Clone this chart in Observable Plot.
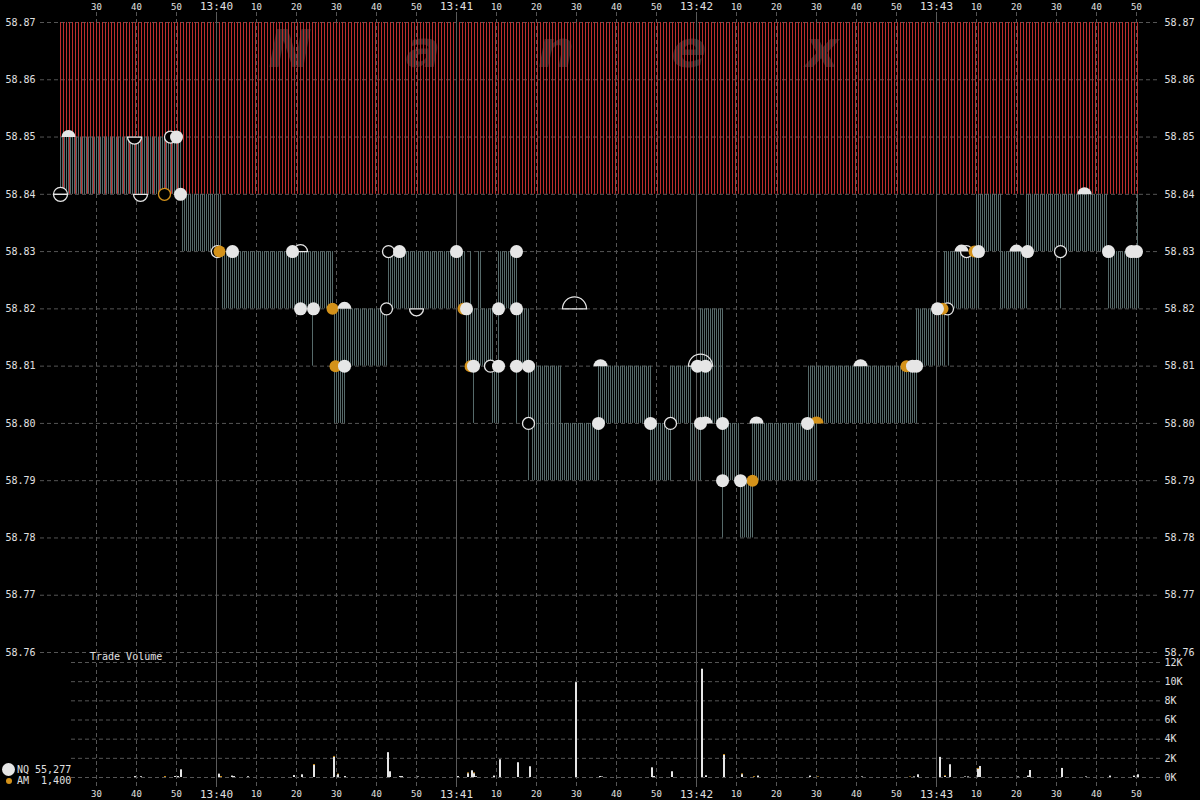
<!DOCTYPE html>
<html>
<head>
<meta charset="utf-8">
<script src="https://cdn.jsdelivr.net/npm/d3@7"></script>
<script src="https://cdn.jsdelivr.net/npm/@observablehq/plot@0.6"></script>
<style>
html, body { margin: 0; padding: 0; background: #000; }
#wrap { position: relative; width: 1200px; height: 800px; background: #000; overflow: hidden;
        font-family: "DejaVu Sans Mono", monospace; }
#wrap svg { position: absolute; left: 0; top: 0; }
.lbl { position: absolute; color: #e0e0e0; font-size: 10px; line-height: 10px; white-space: pre; }
.dot { position: absolute; border-radius: 50%; }
</style>
</head>
<body>
<div id="wrap"></div>
<script>
// ---------------- DATA ----------------
// All times are seconds after 13:39:00
const timeDomain = [21, 291];                       // 13:39:21 .. 13:43:51
const priceTicks = [58.76, 58.77, 58.78, 58.79, 58.80, 58.81, 58.82, 58.83, 58.84, 58.85, 58.86, 58.87];
const volumeTicks = [0, 2000, 4000, 6000, 8000, 10000, 12000];
const legendNQ = "NQ 55,277";
const legendAM = "AM  1,400";

// away quote band: [start, end, low, high]
const redBand = [[21, 291, 58.84, 58.87]];

// NBBO spread spans: [start, end, bid, ask]
const spreads = [
  [21, 51.25, 58.84, 58.85],
  [51.25, 61.25, 58.83, 58.84],
  [61.25, 89.25, 58.82, 58.83],
  [89.25, 92.25, 58.80, 58.81],
  [89.25, 102.75, 58.81, 58.82],
  [102.75, 122.5, 58.82, 58.83],
  [122.5, 129.25, 58.81, 58.82],
  [125.5, 126.5, 58.82, 58.83],
  [129, 130.75, 58.80, 58.81],
  [130.5, 135.25, 58.82, 58.83],
  [135, 138.25, 58.81, 58.82],
  [138, 146.5, 58.80, 58.81],
  [139, 155.75, 58.79, 58.80],
  [155.5, 168.75, 58.80, 58.81],
  [168.5, 173.75, 58.79, 58.80],
  [173.5, 178.75, 58.80, 58.81],
  [178.5, 181.25, 58.79, 58.80],
  [181, 186.75, 58.80, 58.82],
  [186.5, 191, 58.79, 58.80],
  [191, 194.25, 58.78, 58.79],
  [194, 210.25, 58.79, 58.80],
  [208, 235.25, 58.80, 58.81],
  [235, 242.25, 58.81, 58.82],
  [242, 250.75, 58.82, 58.83],
  [250, 256.25, 58.83, 58.84],
  [256, 263, 58.82, 58.83],
  [262.5, 283, 58.83, 58.84],
  [283, 290.75, 58.82, 58.83]
];

// single brief quotes: [time, bid, ask]
const quoteTicks = [
  [84, 58.81, 58.82], [123.5, 58.82, 58.83], [124.25, 58.80, 58.81], [130.5, 58.81, 58.82],
  [135, 58.80, 58.81], [138, 58.79, 58.80], [186.5, 58.78, 58.79], [243, 58.81, 58.82],
  [271, 58.82, 58.83], [290.25, 58.83, 58.84]
];

// trades: [time, price, kind]  N = NQ, A = AM; h = hollow, u = at/above, d = below, U = large
const trades = [
  [23, 58.85, "Nu"], [39.5, 58.85, "Nd"], [48.5, 58.85, "Nh"], [50, 58.85, "N"],
  [21, 58.84, "Nuh"], [21, 58.84, "Nd"], [41, 58.84, "Nd"], [47, 58.84, "Ah"], [51, 58.84, "N"], [277, 58.84, "Nu"],
  [60.2, 58.83, "Nh"], [60.75, 58.83, "A"], [64, 58.83, "N"], [79, 58.83, "N"], [81, 58.83, "Nuh"],
  [103, 58.83, "Nh"], [105.75, 58.83, "N"], [120, 58.83, "N"], [135, 58.83, "N"],
  [246.25, 58.83, "Nu"], [247.5, 58.83, "Nh"], [249.5, 58.83, "A"], [250.5, 58.83, "N"],
  [260, 58.83, "Nu"], [262.75, 58.83, "N"], [271, 58.83, "Nh"], [283, 58.83, "N"], [288.75, 58.83, "N"], [290, 58.83, "N"],
  [81, 58.82, "N"], [84.25, 58.82, "N"], [89, 58.82, "A"], [92, 58.82, "Nu"], [102.5, 58.82, "Nh"],
  [110, 58.82, "Nd"], [121.75, 58.82, "A"], [122.5, 58.82, "N"], [130.5, 58.82, "N"], [135, 58.82, "N"],
  [149.5, 58.82, "NU"], [240.25, 58.82, "N"], [241.5, 58.82, "A"], [242.75, 58.82, "Nh"],
  [89.75, 58.81, "A"], [92, 58.81, "N"], [123.5, 58.81, "A"], [124.25, 58.81, "N"], [128.5, 58.81, "Nh"],
  [130.5, 58.81, "N"], [135, 58.81, "N"], [138, 58.81, "N"], [156, 58.81, "Nu"], [181, 58.81, "NU"],
  [180.25, 58.81, "N"], [182.25, 58.81, "N"], [221, 58.81, "Nu"], [232.5, 58.81, "A"], [234, 58.81, "N"], [235, 58.81, "N"],
  [138, 58.80, "Nh"], [155.5, 58.80, "N"], [168.5, 58.80, "N"], [173.5, 58.80, "Nh"], [181, 58.80, "N"],
  [182.25, 58.80, "Nu"], [186.5, 58.80, "N"], [195, 58.80, "Nu"], [207.75, 58.80, "N"], [210, 58.80, "Au"],
  [186.5, 58.79, "N"], [191, 58.79, "N"], [194, 58.79, "A"]
];

// trade volume: [time, NQ shares, AM shares]
const volumes = [
  [39.5,100,0],[41,80,0],[47,0,100],[49.5,100,0],[50.25,100,0],[51,800,0],
  [60.5,350,0],[61,0,100],[63.75,150,0],[64.25,100,0],[67.75,80,0],
  [79.25,200,0],[81.25,280,0],[84.25,1250,100],[89.25,2100,100],[90.25,300,60],[92,100,0],
  [102.75,2590,0],[103.25,600,0],[105.75,100,0],[106.25,100,0],[110.25,60,0],[120.25,100,0],
  [122.75,400,80],[123.75,700,0],[124.25,400,80],[124.75,80,0],[129.25,150,0],[130.75,1850,0],
  [135.25,1540,0],[138.25,1120,0],[149.75,9900,0],[155.75,100,0],[156.25,60,0],
  [168.75,1010,0],[169.25,100,0],[173.75,600,0],[181.25,11300,0],[182.25,180,0],
  [186.75,2300,100],[191.25,300,80],[194.25,0,80],[195.25,150,0],
  [208.25,150,0],[210.25,0,60],[221.25,60,0],[233.25,0,50],[234.25,60,0],[235.25,280,0],
  [240.75,2100,0],[242,100,80],[243.25,1330,0],[247,60,0],[247.75,60,0],
  [250.25,850,100],[250.75,1150,0],[260.25,60,0],[262.75,150,0],[263.25,730,0],
  [271.25,945,0],[277.25,60,0],[283.25,150,0],[289.25,150,0],[290.25,280,0]
];

// ---------------- CHART ----------------
const BASE = Date.UTC(2011, 4, 5, 13, 39, 0);
const T = s => new Date(BASE + s * 1000);
const WHITE = "#e6e6e6", ORANGE = "#d4921a", GRID = "#555", STRIPE = "#566a6a";

const secTicks = d3.utcSecond.every(10).range(T(timeDomain[0]), T(timeDomain[1])).filter(d => d.getUTCSeconds() !== 0);
const minTicks = d3.utcMinute.range(T(timeDomain[0]), T(timeDomain[1]));
const fmtSec = d3.utcFormat("%S"), fmtMin = d3.utcFormat("%H:%M");

const upHalf = {draw(ctx, size) { const r = Math.sqrt(size / Math.PI); ctx.moveTo(r, 0); ctx.arc(0, 0, r, 0, Math.PI, true); ctx.closePath(); }};
const downHalf = {draw(ctx, size) { const r = Math.sqrt(size / Math.PI); ctx.moveTo(r, 0); ctx.arc(0, 0, r, 0, Math.PI, false); ctx.closePath(); }};

const kindStyle = {
  NU:  {symbol: upHalf, r: 12, fill: "none", stroke: WHITE, strokeWidth: 1.3},
  Nh:  {symbol: "circle", r: 6, fill: "#000", stroke: WHITE, strokeWidth: 1.3},
  Nuh: {symbol: upHalf, r: 7, fill: "#000", stroke: WHITE, strokeWidth: 1.3},
  Nd:  {symbol: downHalf, r: 7, fill: "#000", stroke: WHITE, strokeWidth: 1.3},
  Ah:  {symbol: "circle", r: 6, fill: "#000", stroke: ORANGE, strokeWidth: 1.3},
  A:   {symbol: "circle", r: 6, fill: ORANGE},
  Au:  {symbol: upHalf, r: 7, fill: ORANGE},
  N:   {symbol: "circle", r: 6.5, fill: WHITE},
  Nu:  {symbol: upHalf, r: 7, fill: WHITE}
};
const dotMarks = Object.entries(kindStyle).map(([k, st]) =>
  Plot.dot(trades.filter(d => d[2] === k), {x: d => T(d[0]), y: d => d[1], ...st}));

const common = {
  width: 1200, height: 800, marginLeft: 60, marginRight: 60,
  x: {type: "utc", domain: [T(timeDomain[0]), T(timeDomain[1])]},
  style: {background: "transparent", color: "#e0e0e0", fontFamily: "'DejaVu Sans Mono', monospace", fontSize: "10px", overflow: "visible"}
};

const price = Plot.plot({
  ...common,
  marginTop: 22, marginBottom: 148,
  y: {domain: [58.76, 58.87]},
  marks: [
    Plot.ruleY(priceTicks, {stroke: GRID, strokeDasharray: "4,3", insetLeft: -20, insetRight: -20}),
    Plot.ruleX(secTicks, {stroke: GRID, strokeDasharray: "4,3", insetTop: -10, insetBottom: -135}),
    Plot.rect(redBand, {x1: d => T(d[0]), x2: d => T(d[1]), y1: d => d[2], y2: d => d[3], fill: "url(#redStripe)"}),
    Plot.rect(spreads, {x1: d => T(d[0]), x2: d => T(d[1]), y1: d => d[2], y2: d => d[3], fill: "url(#grayStripe)"}),
    Plot.ruleX(quoteTicks, {x: d => T(d[0]), y1: d => d[1], y2: d => d[2], stroke: STRIPE}),
    Plot.ruleX(minTicks, {stroke: "#5a5a5a", insetTop: -10, insetBottom: -135}),
    ...dotMarks,
    Plot.axisY(priceTicks, {anchor: "left", tickSize: 0, tickPadding: 25, tickFormat: d => d.toFixed(2), fontSize: 10}),
    Plot.axisY(priceTicks, {anchor: "right", tickSize: 0, tickPadding: 24, tickFormat: d => d.toFixed(2), fontSize: 10}),
    Plot.axisX(secTicks, {anchor: "top", tickSize: 0, tickPadding: 13, tickFormat: fmtSec, fontSize: 9}),
    Plot.axisX(minTicks, {anchor: "top", tickSize: 0, tickPadding: 13, tickFormat: fmtMin, fontSize: 11})
  ]
});

const volume = Plot.plot({
  ...common,
  marginTop: 662, marginBottom: 23,
  y: {domain: [0, 12000]},
  marks: [
    Plot.ruleY(volumeTicks, {stroke: GRID, strokeDasharray: "4,3", insetLeft: 11, insetRight: -20}),
    Plot.rect(volumes.filter(d => d[1] > 0), {x1: d => T(d[0]), x2: d => T(d[0] + 0.5), y1: 0, y2: d => d[1], fill: WHITE}),
    Plot.rect(volumes.filter(d => d[2] > 0), {x1: d => T(d[0]), x2: d => T(d[0] + 0.5), y1: d => d[1], y2: d => d[1] + d[2], fill: ORANGE}),
    Plot.axisY(volumeTicks, {anchor: "right", tickSize: 0, tickPadding: 24, tickFormat: d => (d / 1000) + "K", fontSize: 10}),
    Plot.axisX(secTicks, {anchor: "bottom", tickSize: 0, tickPadding: 13, tickFormat: fmtSec, fontSize: 9}),
    Plot.axisX(minTicks, {anchor: "bottom", tickSize: 0, tickPadding: 13, tickFormat: fmtMin, fontSize: 11})
  ]
});

// patterns + watermark inside the price SVG
const svg = d3.select(price);
const defs = svg.insert("defs", ":first-child");
const red = defs.append("pattern").attr("id", "redStripe").attr("patternUnits", "userSpaceOnUse").attr("width", 3).attr("height", 8);
red.append("rect").attr("width", 1).attr("height", 8).attr("fill", "#bc2e2e");
const gray = defs.append("pattern").attr("id", "grayStripe").attr("patternUnits", "userSpaceOnUse").attr("width", 2).attr("height", 8);
gray.append("rect").attr("width", 1).attr("height", 8).attr("fill", STRIPE);
const wm = svg.insert("g", "g").attr("font-family", "'DejaVu Sans', sans-serif").attr("font-style", "italic")
  .attr("font-weight", "bold").attr("font-size", 52).attr("fill", "#2a2a2a").attr("text-anchor", "middle");
["N", "a", "n", "e", "x"].forEach((c, i) => wm.append("text").attr("x", 290 + i * 133).attr("y", 67).text(c));

const wrap = document.getElementById("wrap");
wrap.appendChild(price);
wrap.appendChild(volume);

function addDiv(cls, css, text) {
  const d = document.createElement("div");
  d.className = cls; d.style.cssText = css; if (text) d.textContent = text;
  wrap.appendChild(d);
}
addDiv("lbl", "left:90px;top:652px;", "Trade Volume");
addDiv("dot", `left:2px;top:763px;width:13px;height:13px;background:${WHITE};`);
addDiv("lbl", "left:17px;top:765px;", legendNQ);
addDiv("dot", `left:6px;top:778px;width:6px;height:6px;background:${ORANGE};`);
addDiv("lbl", "left:17px;top:776px;", legendAM);
</script>
</body>
</html>
